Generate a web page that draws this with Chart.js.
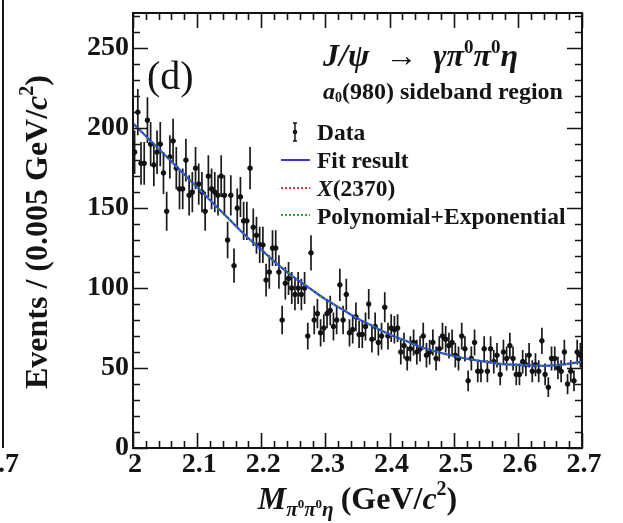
<!DOCTYPE html>
<html>
<head>
<meta charset="utf-8">
<script src="https://cdn.jsdelivr.net/npm/chart.js@4.4.1/dist/chart.umd.min.js"></script>
<style>
  html, body { margin: 0; padding: 0; background: #fff; }
  #wrap { width: 623px; height: 523px; }
</style>
</head>
<body>
<div id="wrap"><canvas id="chart" width="623" height="523"></canvas></div>
<script>
// Histogram: M(pi0 pi0 eta), 2.0 - 2.7 GeV/c^2 in 0.005 bins
const binLow = 2.0;
const binWidth = 0.005;
const eventCounts = [
  185, 210, 178, 178, 205, 190, 177, 185, 190, 172,
  148, 182, 192, 175, 162, 162, 180, 158, 160, 175,
  165, 160, 148, 170, 162, 160, 158, 170, 158, 130,
  158, 114, 150, 157, 142, 142, 175, 138, 133, 127,
  127, 105, 110, 125, 125, 110, 80, 103, 106, 100,
  96, 100, 96, 100, 70, 122, 80, 84, 72, 75,
  84, 86, 76, 80, 102, 80, 96, 72, 74, 82,
  71, 71, 76, 90, 68, 76, 66, 70, 88, 70,
  75, 74, 75, 60, 64, 56, 62, 66, 60, 62,
  70, 58, 60, 66, 56, 62, 70, 68, 64, 66,
  58, 56, 70, 62, 42, 56, 66, 48, 48, 62,
  48, 62, 54, 58, 46, 60, 56, 64, 56, 46,
  46, 54, 52, 58, 48, 52, 48, 67, 46, 38,
  56, 56, 50, 48, 60, 40, 48, 42, 60, 58
];

// Fit curves
const fitMass = [
  2.000, 2.025, 2.050, 2.075, 2.100, 2.125, 2.150, 2.175, 2.200, 2.225,
  2.250, 2.275, 2.300, 2.325, 2.350, 2.375, 2.400, 2.425, 2.450, 2.475,
  2.500, 2.525, 2.550, 2.575, 2.600, 2.625, 2.650, 2.675, 2.700
];
const fitValues = [
  203, 193, 183, 173, 163, 153, 143, 133, 124, 115,
  107, 100, 93, 87, 81, 76, 71, 67, 63, 60,
  57.5, 55.5, 54, 52.5, 52, 51.5, 51.5, 52.5, 54
];
const bkgValues = [
  203, 193, 183, 173, 163, 153, 143, 133, 124, 115,
  107, 100, 93, 87, 81, 76, 71, 67, 63, 60,
  57.5, 55.5, 54, 52.5, 52, 51.5, 51.5, 52.5, 54
];
const x2370Mass = [2.0, 2.35, 2.7];
const x2370Values = [0, 0, 0];

// Axis ticks
const xTickValues = [2.0, 2.1, 2.2, 2.3, 2.4, 2.5, 2.6, 2.7];
const xTickLabels = ['2', '2.1', '2.2', '2.3', '2.4', '2.5', '2.6', '2.7'];
const yTickValues = [0, 50, 100, 150, 200, 250];
const yTickLabels = ['0', '50', '100', '150', '200', '250'];
const xMinorStep = 0.02;
const yMinorStep = 10;

const SERIF = '"Liberation Serif", "Times New Roman", serif';
const INK = '#141414';

// draw a list of text runs with their own fonts and vertical shifts
function drawRuns(ctx, x, y, runs, align) {
    let total = 0;
    runs.forEach(r => { ctx.font = r.font; r.w = ctx.measureText(r.t).width; total += r.w + (r.gap || 0); });
    let cx = align === 'center' ? x - total / 2 : x;
    ctx.textAlign = 'left';
    ctx.textBaseline = 'alphabetic';
    runs.forEach(r => {
        ctx.font = r.font;
        ctx.fillText(r.t, cx, y + (r.dy || 0));
        cx += r.w + (r.gap || 0);
    });
}

const errorBars = {
    id: 'errorBars',
    beforeDatasetsDraw(chart) {
        const ctx = chart.ctx;
        const xs = chart.scales.x, ys = chart.scales.y;
        ctx.save();
        ctx.strokeStyle = '#1a1a1a';
        ctx.lineWidth = 1.7;
        eventCounts.forEach((v, i) => {
            const xc = binLow + binWidth * (i + 0.5);
            const err = Math.sqrt(v);
            const px = xs.getPixelForValue(xc);
            ctx.beginPath();
            ctx.moveTo(px, ys.getPixelForValue(v - err));
            ctx.lineTo(px, ys.getPixelForValue(v + err));
            ctx.moveTo(xs.getPixelForValue(xc - binWidth / 2), ys.getPixelForValue(v));
            ctx.lineTo(xs.getPixelForValue(xc + binWidth / 2), ys.getPixelForValue(v));
            ctx.stroke();
        });
        ctx.restore();
    }
};

const frameAndText = {
    id: 'frameAndText',
    afterDraw(chart) {
        const ctx = chart.ctx;
        const xs = chart.scales.x, ys = chart.scales.y;
        const a = chart.chartArea;
        ctx.save();
        ctx.strokeStyle = INK;
        ctx.fillStyle = INK;

        // ticks on all four sides, pointing inward
        ctx.lineWidth = 1.6;
        ctx.beginPath();
        for (let v = 0; v <= ys.max + 0.001; v += yMinorStep) {
            const major = yTickValues.includes(Math.round(v));
            const len = major ? 15 : 7;
            const py = Math.round(ys.getPixelForValue(v)) + 0.5;
            ctx.moveTo(a.left, py); ctx.lineTo(a.left + len, py);
            ctx.moveTo(a.right, py); ctx.lineTo(a.right - len, py);
        }
        for (let k = 0; k <= 35; k++) {
            const v = binLow + k * xMinorStep;
            const major = k % 5 === 0;
            const len = major ? 15 : 7;
            const px = Math.round(xs.getPixelForValue(v)) + 0.5;
            ctx.moveTo(px, a.bottom); ctx.lineTo(px, a.bottom - len);
            ctx.moveTo(px, a.top); ctx.lineTo(px, a.top + len);
        }
        ctx.stroke();

        // frame
        ctx.lineWidth = 2;
        ctx.strokeRect(a.left, a.top, a.right - a.left, a.bottom - a.top);

        // tick labels
        ctx.font = 'bold 28px ' + SERIF;
        ctx.textAlign = 'right';
        ctx.textBaseline = 'middle';
        yTickValues.forEach((v, i) => ctx.fillText(yTickLabels[i], a.left - 4, ys.getPixelForValue(v)));
        ctx.textAlign = 'center';
        ctx.textBaseline = 'top';
        xTickValues.forEach((v, i) => ctx.fillText(xTickLabels[i], xs.getPixelForValue(v) + 2, a.bottom + 3));

        // y title
        ctx.save();
        ctx.translate(47, 232);
        ctx.rotate(-Math.PI / 2);
        drawRuns(ctx, 0, 0, [
            { t: 'Events / (0.005 GeV/', font: 'bold 32px ' + SERIF },
            { t: 'c', font: 'italic bold 32px ' + SERIF },
            { t: '2', font: 'bold 20px ' + SERIF, dy: -14 },
            { t: ')', font: 'bold 32px ' + SERIF }
        ], 'center');
        ctx.restore();

        // x title
        drawRuns(ctx, (a.left + a.right) / 2, 509, [
            { t: 'M', font: 'italic bold 32px ' + SERIF },
            { t: 'π', font: 'italic bold 21px ' + SERIF, dy: 7 },
            { t: '0', font: 'bold 13px ' + SERIF, dy: -1 },
            { t: 'π', font: 'italic bold 21px ' + SERIF, dy: 7 },
            { t: '0', font: 'bold 13px ' + SERIF, dy: -1 },
            { t: 'η', font: 'italic bold 21px ' + SERIF, dy: 7, gap: 7 },
            { t: '(GeV/', font: 'bold 32px ' + SERIF },
            { t: 'c', font: 'italic bold 32px ' + SERIF },
            { t: '2', font: 'bold 20px ' + SERIF, dy: -14 },
            { t: ')', font: 'bold 32px ' + SERIF }
        ], 'center');

        // panel tag and process text
        ctx.font = '40px ' + SERIF;
        ctx.textAlign = 'left';
        ctx.textBaseline = 'alphabetic';
        ctx.fillText('(d)', 147, 89);

        drawRuns(ctx, 323, 66, [
            { t: 'J/ψ  →  γπ', font: 'italic bold 32px ' + SERIF },
            { t: '0', font: 'bold 19px ' + SERIF, dy: -13 },
            { t: 'π', font: 'italic bold 32px ' + SERIF },
            { t: '0', font: 'bold 19px ' + SERIF, dy: -13 },
            { t: 'η', font: 'italic bold 32px ' + SERIF }
        ], 'left');
        drawRuns(ctx, 323, 99, [
            { t: 'a', font: 'italic bold 24px ' + SERIF },
            { t: '0', font: 'bold 14px ' + SERIF, dy: 3 },
            { t: '(980) sideband region', font: 'bold 24px ' + SERIF }
        ], 'left');

        // legend
        const lx = 317;
        const lf = 'bold 23.5px ' + SERIF;
        ctx.font = lf;
        ctx.fillText('Data', lx, 140);
        ctx.fillText('Fit result', lx, 168);
        drawRuns(ctx, lx, 196, [
            { t: 'X', font: 'italic ' + lf },
            { t: '(2370)', font: lf }
        ], 'left');
        ctx.font = lf;
        ctx.fillText('Polynomial+Exponential', lx, 224);

        ctx.lineWidth = 1.5;
        ctx.beginPath();
        ctx.moveTo(295, 123); ctx.lineTo(295, 141);
        ctx.moveTo(293, 123); ctx.lineTo(297, 123);
        ctx.moveTo(293, 141); ctx.lineTo(297, 141);
        ctx.stroke();
        ctx.beginPath(); ctx.arc(295, 132, 2.3, 0, Math.PI * 2); ctx.fill();

        ctx.lineWidth = 2;
        ctx.strokeStyle = '#3434ff';
        ctx.beginPath(); ctx.moveTo(281, 160); ctx.lineTo(310, 160); ctx.stroke();
        ctx.setLineDash([2, 2]);
        ctx.strokeStyle = '#ff3030';
        ctx.beginPath(); ctx.moveTo(281, 188); ctx.lineTo(310, 188); ctx.stroke();
        ctx.strokeStyle = '#2ea02e';
        ctx.beginPath(); ctx.moveTo(281, 215); ctx.lineTo(310, 215); ctx.stroke();
        ctx.setLineDash([]);

        // sliver of neighbouring panel on the left edge
        ctx.strokeStyle = INK;
        ctx.lineWidth = 2;
        ctx.beginPath();
        ctx.moveTo(3, 0); ctx.lineTo(3, a.bottom);
        ctx.stroke();
        ctx.font = 'bold 28px ' + SERIF;
        ctx.textBaseline = 'top';
        ctx.fillText('.7', -2, a.bottom + 3);
        ctx.restore();
    }
};

const dataPoints = eventCounts.map((v, i) => ({ x: binLow + binWidth * (i + 0.5), y: v }));

new Chart(document.getElementById('chart').getContext('2d'), {
    type: 'scatter',
    data: {
        datasets: [
            {
                label: 'Data',
                data: dataPoints,
                backgroundColor: '#111',
                borderColor: '#111',
                pointRadius: 2.3,
                order: 4
            },
            {
                label: 'X(2370)',
                type: 'line',
                data: x2370Mass.map((m, i) => ({ x: m, y: x2370Values[i] })),
                borderColor: '#ff3030',
                borderWidth: 2,
                borderDash: [2, 2],
                pointRadius: 0,
                clip: false,
                order: 3
            },
            {
                label: 'Fit result',
                type: 'line',
                data: fitMass.map((m, i) => ({ x: m, y: fitValues[i] })),
                borderColor: '#3434ff',
                borderWidth: 2.2,
                pointRadius: 0,
                tension: 0.4,
                order: 2
            },
            {
                label: 'Polynomial+Exponential',
                type: 'line',
                data: fitMass.map((m, i) => ({ x: m, y: bkgValues[i] })),
                borderColor: '#2ea02e',
                borderWidth: 2,
                borderDash: [2, 3],
                pointRadius: 0,
                tension: 0.4,
                order: 1
            }
        ]
    },
    options: {
        responsive: false,
        animation: false,
        devicePixelRatio: 1,
        layout: { padding: { left: 133, right: 41, top: 13, bottom: 75 } },
        plugins: { legend: { display: false }, tooltip: { enabled: false } },
        scales: {
            x: { type: 'linear', min: 2.0, max: 2.7, display: false },
            y: { type: 'linear', min: 0, max: 272, display: false }
        }
    },
    plugins: [errorBars, frameAndText]
});
</script>
</body>
</html>
